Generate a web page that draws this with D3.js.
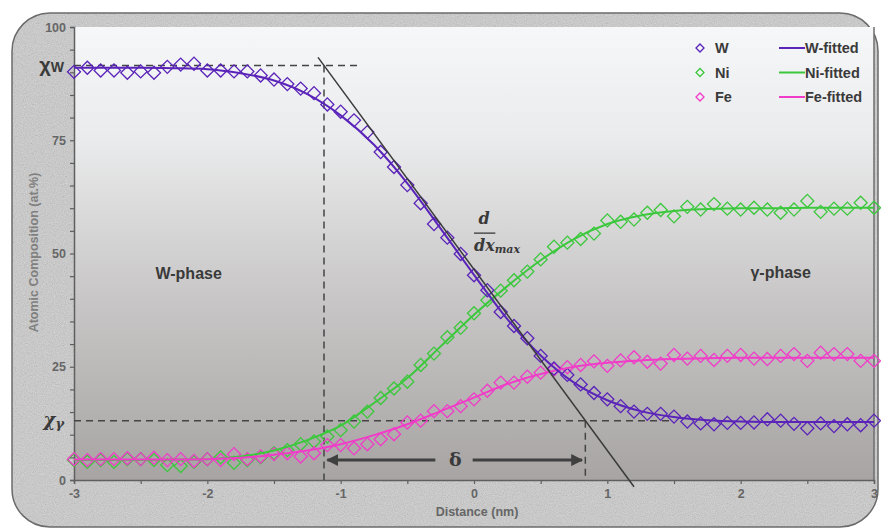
<!DOCTYPE html>
<html>
<head>
<meta charset="utf-8">
<script src="https://cdn.jsdelivr.net/npm/d3@7"></script>
<style>
  body { margin: 0; background: #fff; }
  svg { display: block; font-family: "Liberation Sans", Arial, sans-serif; }
</style>
</head>
<body>
<svg id="chart" width="881" height="528"></svg>
<script>
// measured points, one every 0.1 nm
const distance = [-3.0, -2.9, -2.8, -2.7, -2.6, -2.5, -2.4, -2.3, -2.2, -2.1,
  -2.0, -1.9, -1.8, -1.7, -1.6, -1.5, -1.4, -1.3, -1.2, -1.1,
  -1.0, -0.9, -0.8, -0.7, -0.6, -0.5, -0.4, -0.3, -0.2, -0.1,
  0.0, 0.1, 0.2, 0.3, 0.4, 0.5, 0.6, 0.7, 0.8, 0.9,
  1.0, 1.1, 1.2, 1.3, 1.4, 1.5, 1.6, 1.7, 1.8, 1.9,
  2.0, 2.1, 2.2, 2.3, 2.4, 2.5, 2.6, 2.7, 2.8, 2.9, 3.0];

const wValues = [90.1, 91.0, 90.4, 90.4, 89.9, 90.2, 89.9, 91.2, 91.7, 91.9,
  90.4, 90.4, 90.2, 90.2, 89.3, 88.4, 87.4, 86.4, 85.4, 82.9,
  81.3, 79.4, 76.8, 72.4, 69.1, 65.1, 61.1, 56.5, 53.5, 49.9,
  45.2, 41.9, 37.1, 34.0, 31.3, 27.4, 24.6, 23.2, 21.1, 19.2,
  17.8, 16.3, 15.1, 14.6, 14.6, 14.0, 12.9, 12.5, 12.3, 12.6,
  12.6, 12.7, 13.4, 13.1, 12.4, 11.4, 12.5, 11.9, 12.3, 12.1, 13.1];

const niValues = [4.4, 4.0, 4.4, 4.0, 4.6, 4.6, 4.4, 3.3, 3.1, 4.0,
  4.6, 5.0, 3.8, 4.4, 5.0, 5.9, 6.6, 7.9, 8.5, 9.6,
  11.0, 12.9, 15.1, 18.1, 20.2, 21.7, 25.4, 27.9, 31.5, 33.6,
  36.8, 39.7, 41.8, 44.1, 46.0, 48.7, 51.5, 52.4, 53.2, 54.4,
  57.3, 57.0, 57.5, 59.0, 59.6, 58.2, 60.3, 59.7, 60.9, 59.9,
  59.7, 60.1, 59.7, 59.0, 59.7, 61.6, 59.2, 59.9, 59.9, 61.2, 60.1];

const feValues = [4.6, 4.4, 4.6, 4.6, 4.8, 4.6, 4.9, 4.4, 4.6, 4.2,
  4.6, 4.4, 5.7, 4.6, 5.2, 5.7, 5.9, 5.2, 5.9, 7.7,
  7.7, 7.0, 7.9, 9.0, 10.1, 12.7, 13.1, 15.2, 15.2, 16.3,
  17.8, 19.7, 21.5, 21.5, 22.8, 23.7, 24.4, 24.9, 25.4, 26.2,
  25.2, 26.4, 27.1, 26.1, 25.7, 27.6, 26.8, 27.4, 26.5, 27.4,
  27.6, 26.8, 26.7, 27.4, 27.8, 26.3, 28.1, 27.8, 27.8, 26.3, 26.3];

// fitted profiles read every 0.25 nm
const fitDistance = [-3.0, -2.75, -2.5, -2.25, -2.0, -1.75, -1.5, -1.25, -1.0, -0.75, -0.5, -0.25,
  0.0, 0.25, 0.5, 0.75, 1.0, 1.25, 1.5, 1.75, 2.0, 2.25, 2.5, 2.75, 3.0];
const wFitted = [91.0, 91.0, 91.0, 90.9, 90.7, 89.8, 88.2, 85.2, 80.5, 74.0, 65.5, 55.5,
  45.3, 35.5, 27.5, 21.5, 17.6, 15.2, 13.9, 13.2, 12.9, 12.8, 12.8, 12.8, 12.8];
const niFitted = [4.4, 4.4, 4.4, 4.5, 4.6, 5.2, 6.5, 8.8, 12.0, 17.0, 22.5, 29.5,
  36.5, 42.8, 48.5, 53.2, 56.5, 58.4, 59.4, 59.8, 60.0, 60.0, 60.1, 60.1, 60.1];
const feFitted = [4.5, 4.5, 4.5, 4.5, 4.6, 4.9, 5.6, 6.5, 7.9, 9.9, 12.3, 15.2,
  18.2, 21.2, 23.4, 25.0, 25.9, 26.4, 26.7, 26.9, 27.0, 27.0, 27.0, 27.0, 27.0];

const seriesNames = ["W", "Ni", "Fe"];
const xTicks = [-3, -2, -1, 0, 1, 2, 3];
const yTickLabels = [0, 25, 50, 75, 100];

// construction lines
const chiW = 91.5, chiGamma = 13.1;
const tangent = [[-1.17, 93.3], [1.2, -1.5]];
const xLeft = -1.125, xRight = 0.835;
const deltaY = 4.4;

const colors = {W: "#5a23b9", Ni: "#3cc83c", Fe: "#f03cc8"};

const margin = {top: 27, right: 7, bottom: 48, left: 74};
const width = 800;
const height = 453;

const svg = d3.select("#chart");
const defs = svg.append("defs");

const grad = defs.append("linearGradient").attr("id", "bg")
  .attr("x1", 0).attr("y1", 0).attr("x2", 0).attr("y2", 1);
grad.append("stop").attr("offset", 0).attr("stop-color", "#f6f7f9");
grad.append("stop").attr("offset", 0.25).attr("stop-color", "#eaebec");
grad.append("stop").attr("offset", 0.6).attr("stop-color", "#c8c6c6");
grad.append("stop").attr("offset", 1).attr("stop-color", "#a8a4a4");

const noise = defs.append("filter").attr("id", "noise")
  .attr("x", 0).attr("y", 0).attr("width", "100%").attr("height", "100%");
noise.append("feTurbulence").attr("type", "fractalNoise")
  .attr("baseFrequency", 0.9).attr("numOctaves", 2).attr("seed", 4);
noise.append("feColorMatrix").attr("type", "matrix")
  .attr("values", "0.33 0.33 0.33 0 0  0.33 0.33 0.33 0 0  0.33 0.33 0.33 0 0  0 0 0 0 1");

defs.append("marker").attr("id", "arrow")
  .attr("viewBox", "0 0 10 10").attr("refX", 9).attr("refY", 5)
  .attr("markerWidth", 4).attr("markerHeight", 4).attr("orient", "auto-start-reverse")
  .append("path").attr("d", "M0,0L10,5L0,10z").attr("fill", "#404040");

// outer textured frame
svg.append("rect").attr("x", 12).attr("y", 13).attr("width", 866).attr("height", 514)
  .attr("rx", 38).attr("fill", "#d0d0d0");
defs.append("clipPath").attr("id", "frameClip")
  .append("rect").attr("x", 12).attr("y", 13).attr("width", 866).attr("height", 514).attr("rx", 38);
svg.append("rect").attr("x", 12).attr("y", 13).attr("width", 866).attr("height", 514)
  .attr("clip-path", "url(#frameClip)").attr("filter", "url(#noise)").attr("opacity", 0.35);
svg.append("rect").attr("x", 12).attr("y", 13).attr("width", 866).attr("height", 514)
  .attr("rx", 38).attr("fill", "none").attr("stroke", "#6b6b6b").attr("stroke-width", 1.5);

const chart = svg.append("g")
  .attr("transform", "translate(" + margin.left + "," + margin.top + ")");

const x = d3.scaleLinear().domain([-3, 3]).range([0, width]);
const y = d3.scaleLinear().domain([0, 100]).range([height, 0]);

chart.append("rect").attr("width", width).attr("height", height).attr("fill", "url(#bg)");
chart.append("line").attr("x1", width).attr("x2", width).attr("y1", 0).attr("y2", height)
  .attr("stroke", "#6e6e6e").attr("stroke-width", 1.5);

// axes
const xAxis = d3.axisBottom(x).tickValues(d3.range(-3, 3.01, 0.5))
  .tickFormat(d => xTicks.includes(d) ? d : "").tickSize(4).tickPadding(5);
const yAxis = d3.axisLeft(y).tickValues(d3.range(0, 101, 5))
  .tickFormat(d => yTickLabels.includes(d) ? d : "").tickSize(4).tickPadding(4);

const gx = chart.append("g").attr("transform", "translate(0," + height + ")").call(xAxis);
const gy = chart.append("g").call(yAxis);
[gx, gy].forEach(g => {
  g.select(".domain").attr("stroke", "#5f5f5f").attr("stroke-width", 1.5);
  g.selectAll(".tick line").attr("stroke", "#5f5f5f").attr("stroke-width", 1.2);
  g.selectAll(".tick text").attr("fill", "#666").attr("font-size", 12.5)
    .attr("font-weight", "bold").attr("font-family", "Liberation Sans, Arial, sans-serif");
});

chart.append("text").text("Distance (nm)")
  .attr("x", x(0) + 3).attr("y", height + 36).attr("text-anchor", "middle")
  .attr("fill", "#666").attr("font-size", 12.5).attr("font-weight", "bold");
chart.append("text").text("Atomic Composition (at.%)")
  .attr("transform", "translate(-36," + (height / 2 - 1) + ") rotate(-90)")
  .attr("text-anchor", "middle").attr("fill", "#808080")
  .attr("font-size", 12.5).attr("font-weight", "bold");

// chi labels
const chiWLabel = chart.append("text").attr("x", -10).attr("y", y(chiW) + 6)
  .attr("text-anchor", "end").attr("fill", "#3a3a3a").attr("font-weight", "bold");
chiWLabel.append("tspan").text("χ").attr("font-size", 20);
chiWLabel.append("tspan").text("W").attr("font-size", 14);
const chiGLabel = chart.append("text").attr("x", -10).attr("y", y(chiGamma) + 5)
  .attr("text-anchor", "end").attr("fill", "#3a3a3a").attr("font-weight", "bold")
  .attr("font-style", "italic").attr("font-family", "DejaVu Serif, serif");
chiGLabel.append("tspan").text("χ").attr("font-size", 18);
chiGLabel.append("tspan").text("γ").attr("font-size", 13).attr("dy", 2);

// dashed construction lines
const dashed = (x1, y1, x2, y2) => chart.append("line")
  .attr("x1", x(x1)).attr("y1", y(y1)).attr("x2", x(x2)).attr("y2", y(y2))
  .attr("stroke", "#444").attr("stroke-width", 1.5).attr("stroke-dasharray", "7,5");
dashed(-3, chiW, -0.87, chiW);
dashed(xLeft, chiW, xLeft, 0);
dashed(-3, chiGamma, 1.5, chiGamma);
dashed(xRight, chiGamma, xRight, 0);

// fitted curves
const fitLine = d3.line().x(d => x(d[0])).y(d => y(d[1])).curve(d3.curveMonotoneX);
const fits = {W: wFitted, Ni: niFitted, Fe: feFitted};
const points = {W: wValues, Ni: niValues, Fe: feValues};

const diamond = d3.symbol().type(d3.symbolSquare).size(85);
["Ni", "Fe", "W"].forEach(name => {
  chart.append("g").selectAll("path")
    .data(points[name].map((v, i) => [distance[i], v])).enter()
    .append("path")
    .attr("d", diamond)
    .attr("transform", d => "translate(" + x(d[0]) + "," + y(d[1]) + ") rotate(45)")
    .attr("fill", "none").attr("stroke", colors[name]).attr("stroke-width", 1.3);
});
["Ni", "Fe", "W"].forEach(name => {
  chart.append("path")
    .datum(fits[name].map((v, i) => [fitDistance[i], v]))
    .attr("fill", "none").attr("stroke", colors[name]).attr("stroke-width", 2)
    .attr("d", fitLine);
});

// tangent at max slope
chart.append("line")
  .attr("x1", x(tangent[0][0])).attr("y1", y(tangent[0][1]))
  .attr("x2", x(tangent[1][0])).attr("y2", y(tangent[1][1]))
  .attr("stroke", "#3a3a3a").attr("stroke-width", 1.5);

// delta arrows
chart.append("line").attr("x1", x(-0.29)).attr("x2", x(-1.1))
  .attr("y1", y(deltaY)).attr("y2", y(deltaY))
  .attr("stroke", "#404040").attr("stroke-width", 3).attr("marker-end", "url(#arrow)");
chart.append("line").attr("x1", x(-0.01)).attr("x2", x(0.81))
  .attr("y1", y(deltaY)).attr("y2", y(deltaY))
  .attr("stroke", "#404040").attr("stroke-width", 3).attr("marker-end", "url(#arrow)");
chart.append("text").text("δ").attr("x", x(-0.14)).attr("y", y(deltaY) + 6)
  .attr("text-anchor", "middle").attr("fill", "#3a3a3a")
  .attr("font-size", 19).attr("font-weight", "bold").attr("font-family", "DejaVu Serif, serif");

// derivative label
const deriv = chart.append("g").attr("fill", "#3a3a3a")
  .attr("font-family", "DejaVu Serif, serif").attr("font-style", "italic").attr("font-weight", "bold");
deriv.append("text").text("d").attr("x", x(0.075)).attr("y", y(56.5))
  .attr("text-anchor", "middle").attr("font-size", 16);
deriv.append("line").attr("x1", x(0)).attr("x2", x(0.16))
  .attr("y1", y(54.5)).attr("y2", y(54.5)).attr("stroke", "#3a3a3a").attr("stroke-width", 1.3);
const dx = deriv.append("text").attr("x", x(0)).attr("y", y(50.6));
dx.append("tspan").text("dx").attr("font-size", 16);
dx.append("tspan").text("max").attr("font-size", 11).attr("dy", 2);

// phase labels
chart.append("text").text("W-phase").attr("x", x(-2.14)).attr("y", y(44.3))
  .attr("text-anchor", "middle").attr("fill", "#3a3a3a").attr("font-size", 16).attr("font-weight", "bold");
chart.append("text").text("γ-phase").attr("x", x(2.3)).attr("y", y(44.5))
  .attr("text-anchor", "middle").attr("fill", "#3a3a3a").attr("font-size", 16).attr("font-weight", "bold");

// legend
const legend = svg.append("g").attr("font-size", 14.5).attr("font-weight", "bold").attr("fill", "#3a3a3a");
seriesNames.forEach((name, i) => {
  const ly = 48 + i * 24.5;
  legend.append("path").attr("d", d3.symbol().type(d3.symbolSquare).size(32))
    .attr("transform", "translate(700," + ly + ") rotate(45)")
    .attr("fill", "none").attr("stroke", colors[name]).attr("stroke-width", 1.3);
  legend.append("text").text(name).attr("x", 715).attr("y", ly + 5);
  legend.append("line").attr("x1", 779).attr("x2", 805).attr("y1", ly).attr("y2", ly)
    .attr("stroke", colors[name]).attr("stroke-width", 2);
  legend.append("text").text(name + "-fitted").attr("x", 805).attr("y", ly + 5);
});
</script>
</body>
</html>
